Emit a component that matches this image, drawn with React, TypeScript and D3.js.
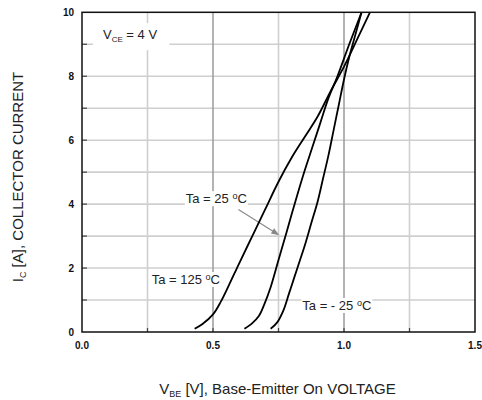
import React, { useEffect, useRef } from 'react';
import * as d3 from 'd3';

// V_BE (V) vs I_C (A)
const curve125: [number, number][] = [
  [0.43, 0.1], [0.46, 0.25], [0.5, 0.55], [0.53, 0.95], [0.56, 1.45], [0.6, 2.15],
  [0.65, 3.0], [0.7, 3.85], [0.75, 4.7], [0.8, 5.45], [0.85, 6.1], [0.9, 6.75],
  [0.95, 7.55], [1.0, 8.3], [1.05, 9.15], [1.099, 10],
];
const curve25: [number, number][] = [
  [0.62, 0.1], [0.65, 0.28], [0.675, 0.5], [0.695, 0.85], [0.72, 1.4], [0.75, 2.25],
  [0.78, 3.1], [0.815, 4.1], [0.85, 5.05], [0.88, 5.8], [0.91, 6.55], [0.94, 7.3],
  [0.975, 8.0], [1.02, 9.0], [1.067, 10],
];
const curveM25: [number, number][] = [
  [0.72, 0.1], [0.745, 0.3], [0.77, 0.7], [0.79, 1.2], [0.81, 1.7], [0.83, 2.2],
  [0.85, 2.7], [0.875, 3.4], [0.9, 4.1], [0.92, 4.8], [0.94, 5.5], [0.96, 6.3],
  [0.98, 7.1], [1.0, 7.9], [1.02, 8.6], [1.04, 9.2], [1.067, 10],
];

const xTicks = [0, 0.5, 1.0, 1.5];
const xTickLabels = ['0.0', '0.5', '1.0', '1.5'];
const yTicks = [0, 2, 4, 6, 8, 10];
const xGrid = [0.25, 0.5, 0.75, 1.0, 1.25];
const xGridMajor = [0.5, 1.0];
const yGrid = [1, 2, 3, 4, 5, 6, 7, 8, 9];

const FONT = '"Liberation Sans", Arial, sans-serif';

const App: React.FC = () => {
  const svgRef = useRef<SVGSVGElement>(null);

  useEffect(() => {
    if (!svgRef.current) return;
    const svg = d3.select(svgRef.current);
    svg.selectAll('*').remove();

    const x = d3.scaleLinear().domain([0, 1.5]).range([82, 475]);
    const y = d3.scaleLinear().domain([0, 10]).range([332, 12.3]);

    svg.append('rect').attr('width', 482).attr('height', 400).attr('fill', '#fff');

    // grid
    svg.selectAll('.hg').data(yGrid).enter().append('line')
      .attr('x1', x(0)).attr('x2', x(1.5))
      .attr('y1', d => y(d)).attr('y2', d => y(d))
      .attr('stroke', '#cfcfcf').attr('stroke-width', 1.6);
    svg.selectAll('.vg').data(xGrid).enter().append('line')
      .attr('x1', d => x(d)).attr('x2', d => x(d))
      .attr('y1', y(0)).attr('y2', y(10))
      .attr('stroke', d => xGridMajor.includes(d) ? '#a0a0a0' : '#cfcfcf')
      .attr('stroke-width', 1.6);

    // inward ticks
    svg.selectAll('.yt').data(yGrid).enter().append('line')
      .attr('x1', x(0)).attr('x2', x(0) + 5)
      .attr('y1', d => y(d)).attr('y2', d => y(d))
      .attr('stroke', '#444').attr('stroke-width', 1.2);
    svg.selectAll('.xt').data(xGrid).enter().append('line')
      .attr('x1', d => x(d)).attr('x2', d => x(d))
      .attr('y1', y(0)).attr('y2', y(0) - 4)
      .attr('stroke', '#444').attr('stroke-width', 1.2);

    // annotation labels with white backing
    const addLabel = (vx: number, iy: number, parts: { t: string; kind?: 'sub' | 'sup' }[], pad: [number, number, number, number]) => {
      const g = svg.append('g');
      const bg = g.append('rect').attr('fill', '#fff');
      const txt = g.append('text')
        .attr('x', x(vx)).attr('y', y(iy))
        .attr('font-family', FONT).attr('font-size', 13).attr('fill', '#222');
      let shift = 0;
      parts.forEach(p => {
        const ts = txt.append('tspan').text(p.t);
        const want = p.kind === 'sub' ? 3 : p.kind === 'sup' ? -4 : 0;
        if (p.kind === 'sub') ts.attr('font-size', 8);
        if (p.kind === 'sup') ts.attr('font-size', 9);
        ts.attr('dy', want - shift);
        shift = want;
      });
      const bb = (txt.node() as SVGTextElement).getBBox();
      bg.attr('x', bb.x - pad[0]).attr('y', bb.y - pad[1])
        .attr('width', bb.width + pad[0] + pad[2])
        .attr('height', bb.height + pad[1] + pad[3]);
    };

    addLabel(0.08, 9.16, [{ t: 'V' }, { t: 'CE', kind: 'sub' }, { t: ' = 4 V' }], [10, 4, 12, 6]);
    addLabel(0.396, 4.03, [{ t: 'Ta = 25 ' }, { t: 'o', kind: 'sup' }, { t: 'C' }], [1, 0, 1, 0]);
    addLabel(0.266, 1.5, [{ t: 'Ta = 125 ' }, { t: 'o', kind: 'sup' }, { t: 'C' }], [1, 0, 2, 0]);
    addLabel(0.841, 0.69, [{ t: 'Ta = - 25 ' }, { t: 'o', kind: 'sup' }, { t: 'C' }], [1, 0, 1, 0]);

    // arrow for 25 C
    const ax1 = x(0.597), ay1 = y(3.83), ax2 = x(0.753), ay2 = y(3.03);
    const ang = Math.atan2(ay2 - ay1, ax2 - ax1);
    svg.append('line')
      .attr('x1', ax1).attr('y1', ay1)
      .attr('x2', ax2 - 6 * Math.cos(ang)).attr('y2', ay2 - 6 * Math.sin(ang))
      .attr('stroke', '#888').attr('stroke-width', 1.1);
    const head = [
      [ax2, ay2],
      [ax2 - 8 * Math.cos(ang) + 3 * Math.sin(ang), ay2 - 8 * Math.sin(ang) - 3 * Math.cos(ang)],
      [ax2 - 8 * Math.cos(ang) - 3 * Math.sin(ang), ay2 - 8 * Math.sin(ang) + 3 * Math.cos(ang)],
    ];
    svg.append('path')
      .attr('d', 'M' + head.map(p => p.join(',')).join('L') + 'Z')
      .attr('fill', '#888');

    // curves
    const line = d3.line<[number, number]>()
      .x(d => x(d[0])).y(d => y(d[1]))
      .curve(d3.curveCatmullRom.alpha(0.5));
    [curve125, curve25, curveM25].forEach(c => {
      svg.append('path').datum(c)
        .attr('d', line)
        .attr('fill', 'none').attr('stroke', '#000').attr('stroke-width', 1.8);
    });

    // frame
    svg.append('rect')
      .attr('x', x(0)).attr('y', y(10))
      .attr('width', x(1.5) - x(0)).attr('height', y(0) - y(10))
      .attr('fill', 'none').attr('stroke', '#111').attr('stroke-width', 1.5);

    // tick labels
    svg.selectAll('.xl').data(xTicks).enter().append('text')
      .attr('x', d => x(d)).attr('y', 349)
      .attr('text-anchor', 'middle')
      .attr('font-family', FONT).attr('font-size', 10).attr('font-weight', 'bold')
      .attr('fill', '#111')
      .text((d, i) => xTickLabels[i]);
    svg.selectAll('.yl').data(yTicks).enter().append('text')
      .attr('x', 74).attr('y', d => y(d))
      .attr('dy', '0.36em')
      .attr('text-anchor', 'end')
      .attr('font-family', FONT).attr('font-size', 10).attr('font-weight', 'bold')
      .attr('fill', '#111')
      .text(d => String(d));

    // axis titles
    const xt = svg.append('text')
      .attr('x', 277.5).attr('y', 394)
      .attr('text-anchor', 'middle')
      .attr('font-family', FONT).attr('font-size', 15).attr('fill', '#222');
    xt.append('tspan').text('V');
    xt.append('tspan').text('BE').attr('font-size', 9).attr('dy', 3);
    xt.append('tspan').text(' [V], Base-Emitter On VOLTAGE').attr('dy', -3);

    const yt = svg.append('text')
      .attr('transform', 'translate(23,177) rotate(-90)')
      .attr('text-anchor', 'middle')
      .attr('font-family', FONT).attr('font-size', 15).attr('fill', '#222');
    yt.append('tspan').text('I');
    yt.append('tspan').text('C').attr('font-size', 9).attr('dy', 3);
    yt.append('tspan').text(' [A], COLLECTOR CURRENT').attr('dy', -3);
  }, []);

  return (
    <svg
      ref={svgRef}
      width={482}
      height={400}
      style={{ position: 'absolute', left: 0, top: 0 }}
    />
  );
};

export default App;
